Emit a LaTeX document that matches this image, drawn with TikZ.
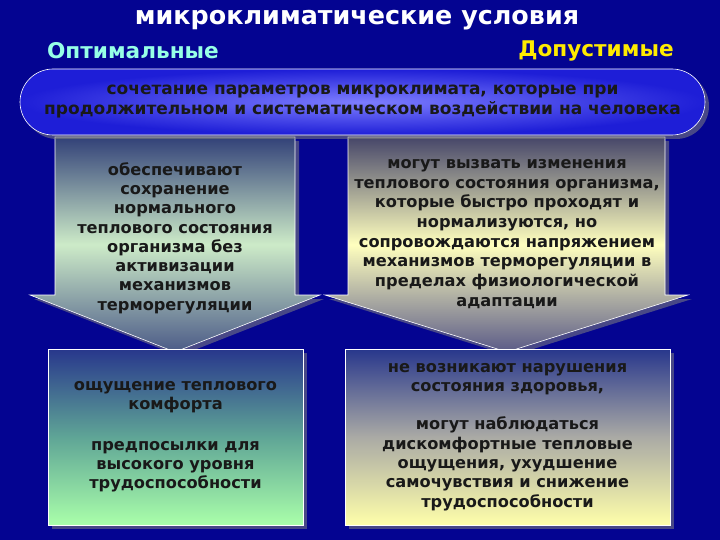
\documentclass[tikz,border=0pt]{standalone}
\usepackage{fontspec}
\setmainfont{DejaVu Sans}
\usepackage{tikz}
\usetikzlibrary{positioning}
\usetikzlibrary{shadows}
\definecolor{bgblue}{RGB}{4,4,145}
\definecolor{optcol}{RGB}{150,255,230}
\definecolor{dopcol}{RGB}{255,235,0}
\definecolor{slateA}{RGB}{50,65,120}
\definecolor{paleG}{RGB}{205,235,200}
\definecolor{slateB}{RGB}{75,90,135}
\definecolor{greyA}{RGB}{70,70,105}
\definecolor{paleY}{RGB}{255,255,190}
\definecolor{greyB}{RGB}{90,90,135}
\definecolor{boxtop}{RGB}{40,55,140}
\definecolor{teal}{RGB}{95,165,150}
\definecolor{lightG}{RGB}{170,255,170}
\definecolor{mauve}{RGB}{170,170,165}
\definecolor{lightY}{RGB}{255,255,170}

\begin{document}
\begin{tikzpicture}[x=1pt, y=-1pt,
	txt/.style={align=center, text=black!90, font=\fontsize{16.2}{19.3}\selectfont\bfseries},
	box/.style={draw=white, line width=0.6pt, drop shadow={shadow xshift=4pt, shadow yshift=-4pt, opacity=0.55}},
	head/.style={font=\fontsize{21.6}{24}\selectfont\bfseries}]
	\fill[bgblue] (0,0) rectangle (720,540);
	
	\node[head, white, font=\fontsize{25.4}{28}\selectfont\bfseries] (T) at (357,20) {микроклиматические условия};
	\node[head, optcol] (O) at (133,51) {Оптимальные};
	\node[head, dopcol] (D) at (596,51) {Допустимые};
	
	\path[box, top color=slateA, bottom color=slateB, middle color=paleG]
	(55,137) -- (295,137) -- (295,295) -- (320,295) -- (175,352) -- (30,295) -- (55,295) -- cycle;
	\path[box, top color=greyA, bottom color=greyB, middle color=paleY]
	(348,137) -- (665,137) -- (665,295) -- (688,295) -- (507,352) -- (325,295) -- (348,295) -- cycle;
	
	\node[box, rounded corners=33, minimum width=685, minimum height=66, inner color={rgb,255:red,125;green,125;blue,255}, outer color={rgb,255:red,30;green,30;blue,215}, txt, font=\fontsize{17}{20}\selectfont\bfseries] (B) at (362.5,102)
	{сочетание параметров микроклимата, которые при\\продолжительном и систематическом воздействии на человека};
	
	\node[txt] (A1) at (175,238) {обеспечивают\\сохранение\\нормального\\теплового состояния\\организма без\\активизации\\механизмов\\терморегуляции};
	\node[txt, font=\fontsize{16.2}{19.7}\selectfont\bfseries] (A2) at (507,234) {могут вызвать изменения\\теплового состояния организма,\\которые быстро проходят и\\нормализуются, но\\сопровождаются напряжением\\механизмов терморегуляции в\\пределах физиологической\\адаптации};
	
	\node[box, txt, minimum width=255, minimum height=176, top color=boxtop, bottom color=lightG, middle color=teal] (K1) at (175.5,437)
	{ощущение теплового\\комфорта\\[21pt]предпосылки для\\высокого уровня\\трудоспособности};
	\node[box, txt, minimum width=325, minimum height=176, top color=boxtop, bottom color=lightY, middle color=mauve] (K2) at (507.5,437)
	{не возникают нарушения\\состояния здоровья,\\[19pt]могут наблюдаться\\дискомфортные тепловые\\ощущения, ухудшение\\самочувствия и снижение\\трудоспособности};
\end{tikzpicture}
\end{document}
